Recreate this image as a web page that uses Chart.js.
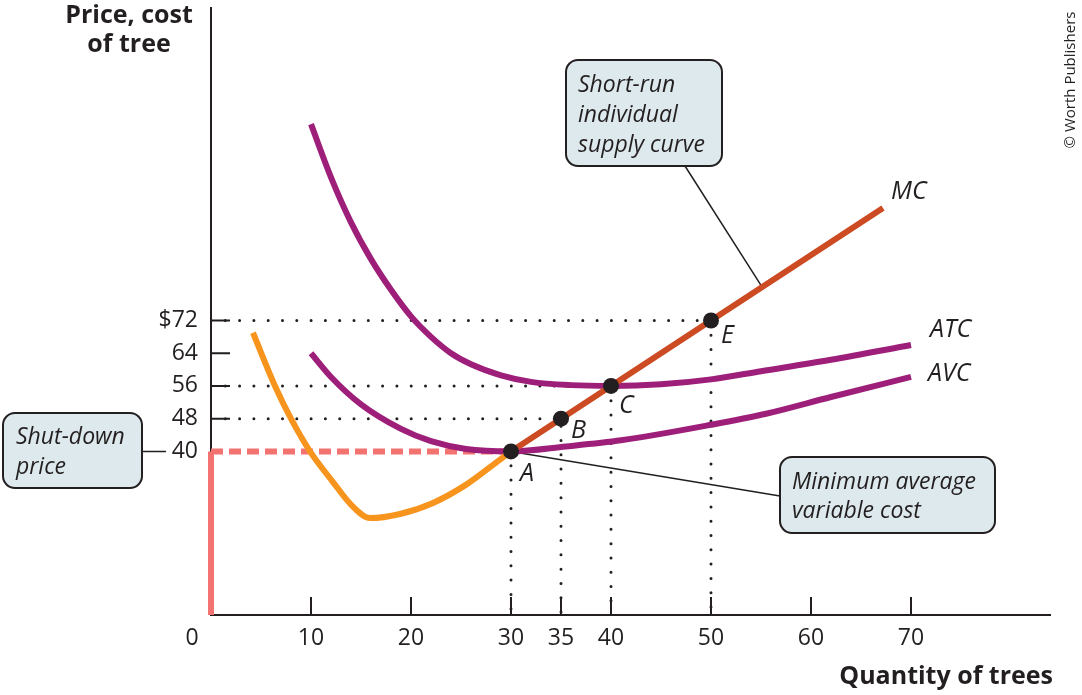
<!DOCTYPE html>
<html>
<head>
<meta charset="utf-8">
<script src="https://cdn.jsdelivr.net/npm/chart.js@4.4.1/dist/chart.umd.min.js"></script>
<style>
  html, body { margin: 0; padding: 0; background: #fff; }
  #wrap { position: relative; width: 1082px; height: 695px; }
</style>
</head>
<body>
<div id="wrap"><canvas id="chart"></canvas></div>
<script>
// tick labels
var quantityTicks = [10, 20, 30, 35, 40, 50, 60, 70];
var priceTicks = [40, 48, 56, 64, 72];
var shutdownPrice = 40;

// marginal cost, falling/bottom part (orange) and rising part (supply curve)
var mcLowQ = [4.2, 6.4, 8.0, 9.9, 12.2, 14.0, 15.9, 18.9, 22.2, 25.6, 28.9, 30];
var mcLowP = [69, 56, 48, 40, 32.5, 27, 23.7, 24.7, 27.4, 32, 38, 40];
var mcHighQ = [30, 35, 40, 50, 67.2];
var mcHighP = [40, 48, 56, 72, 99.5];

// average total cost and average variable cost
var atcQ = [10, 12, 14, 16, 18, 20, 22, 24, 26, 29, 32, 36, 40, 45, 50, 55, 62, 70];
var atcP = [120, 107, 96, 87, 79.5, 73, 68, 64, 61.3, 58.6, 57, 56.2, 56, 56.4, 57.6, 59.6, 62.4, 66];
var avcQ = [10, 12, 15, 19, 22, 25.5, 30, 35.5, 41, 50, 55.5, 62, 70];
var avcP = [64, 58.2, 51.5, 45.5, 42.5, 40.6, 40, 41.2, 42.7, 46.5, 49.2, 53.3, 58.2];

// labelled points
var pointNames = ['A', 'B', 'C', 'E'];
var pointQ = [30, 35, 40, 50];
var pointP = [40, 48, 56, 72];

// where the supply-curve callout touches MC
var supplyCallout = { q: 55.1, p: 80.2 };

var ink = '#231f20';
var purple = '#9e1f7a';
var orange = '#f7941d';
var rust = '#cc4b22';
var salmon = '#f37370';
var boxFill = '#dde9ec';

function pairs(qs, ps) {
  return qs.map(function (q, i) { return { x: q, y: ps[i] }; });
}

// dotted guides from the points to both axes
var guideData = [];
pointQ.forEach(function (q, i) {
  if (pointP[i] !== shutdownPrice) {
    guideData.push({ x: 0, y: pointP[i] });
    guideData.push({ x: q, y: pointP[i] });
  } else {
    guideData.push({ x: q, y: pointP[i] });
  }
  guideData.push({ x: q, y: 0 });
  guideData.push({ x: NaN, y: NaN });
});

var curve = {
  showLine: true,
  pointRadius: 0,
  borderWidth: 6,
  fill: false
};

var decor = {
  id: 'decor',
  beforeDatasetsDraw: function (chart) {
    var ctx = chart.ctx, x = chart.scales.x, y = chart.scales.y, ca = chart.chartArea;
    ctx.save();
    ctx.strokeStyle = ink;
    ctx.lineWidth = 2;
    ctx.beginPath();
    priceTicks.forEach(function (v) {
      if (v === shutdownPrice) return;
      var py = y.getPixelForValue(v);
      ctx.moveTo(ca.left, py); ctx.lineTo(ca.left + 19, py);
    });
    quantityTicks.forEach(function (v) {
      var px = x.getPixelForValue(v);
      ctx.moveTo(px, ca.bottom); ctx.lineTo(px, ca.bottom - 18);
    });
    ctx.stroke();

    // leader lines
    ctx.lineWidth = 1.5;
    ctx.beginPath();
    ctx.moveTo(685, 166);
    ctx.lineTo(x.getPixelForValue(supplyCallout.q), y.getPixelForValue(supplyCallout.p));
    ctx.moveTo(x.getPixelForValue(pointQ[0]), y.getPixelForValue(pointP[0]));
    ctx.lineTo(780, 496);
    ctx.moveTo(142, y.getPixelForValue(shutdownPrice));
    ctx.lineTo(166, y.getPixelForValue(shutdownPrice));
    ctx.stroke();
    ctx.restore();
  },
  afterDatasetsDraw: function (chart) {
    var ctx = chart.ctx, x = chart.scales.x, y = chart.scales.y, ca = chart.chartArea;
    ctx.save();

    function box(l, t, w, h, lines, tx, ty, lh) {
      ctx.beginPath();
      ctx.roundRect(l, t, w, h, 12);
      ctx.fillStyle = boxFill;
      ctx.fill();
      ctx.strokeStyle = ink;
      ctx.lineWidth = 2;
      ctx.stroke();
      ctx.fillStyle = ink;
      ctx.font = "italic 23px 'Open Sans'";
      ctx.textAlign = 'left';
      ctx.textBaseline = 'middle';
      lines.forEach(function (s, i) { ctx.fillText(s, tx, ty + i * lh); });
    }
    box(566, 60, 156, 106, ['Short-run', 'individual', 'supply curve'], 578, 85, 30);
    box(780, 457, 215, 76, ['Minimum average', 'variable cost'], 792, 482, 29);
    box(3, 413, 139, 75, ['Shut-down', 'price'], 16, 437, 30);

    // point letters and curve names
    ctx.fillStyle = ink;
    ctx.font = "italic 25px 'Open Sans'";
    ctx.textAlign = 'left';
    ctx.textBaseline = 'middle';
    var offs = { A: [9, 22], B: [10, 12], C: [8, 20], E: [10, 15] };
    pointNames.forEach(function (n, i) {
      var px = x.getPixelForValue(pointQ[i]), py = y.getPixelForValue(pointP[i]);
      ctx.fillText(n, px + offs[n][0], py + offs[n][1]);
    });
    ctx.fillText('MC', 891, 192);
    ctx.fillText('ATC', 930, 330);
    ctx.fillText('AVC', 928, 374);

    // origin label
    ctx.font = "23px 'Open Sans'";
    ctx.textAlign = 'center';
    ctx.fillText('0', x.getPixelForValue(0) - 19, 638);

    // axis titles
    ctx.font = "bold 25px 'Open Sans'";
    ctx.textAlign = 'center';
    ctx.fillText('Price, cost', 129, 16);
    ctx.fillText('of tree', 129, 45);
    ctx.textAlign = 'right';
    ctx.fillText('Quantity of trees', 1053, 677);

    // credit
    ctx.font = "15px 'Open Sans'";
    ctx.textAlign = 'center';
    ctx.translate(1071, 80);
    ctx.rotate(-Math.PI / 2);
    ctx.fillText('\u00A9 Worth Publishers', 0, 0);
    ctx.restore();
  }
};

Chart.defaults.font.family = "'Open Sans', sans-serif";
Chart.defaults.color = ink;

new Chart(document.getElementById('chart').getContext('2d'), {
  type: 'scatter',
  data: {
    datasets: [
      { label: 'points', data: pairs(pointQ, pointP), pointRadius: 8, pointBackgroundColor: ink,
        pointBorderWidth: 0, showLine: false, order: 0 },
      Object.assign({ label: 'MC', data: pairs(mcHighQ, mcHighP), borderColor: rust, order: 1 }, curve),
      Object.assign({ label: 'MC low', data: pairs(mcLowQ, mcLowP), borderColor: orange,
        cubicInterpolationMode: 'monotone', order: 2 }, curve),
      Object.assign({ label: 'ATC', data: pairs(atcQ, atcP), borderColor: purple,
        cubicInterpolationMode: 'monotone', order: 3 }, curve),
      Object.assign({ label: 'AVC', data: pairs(avcQ, avcP), borderColor: purple,
        cubicInterpolationMode: 'monotone', order: 3 }, curve),
      Object.assign({ label: 'shut-down dashed', data: [{ x: 0, y: shutdownPrice }, { x: pointQ[0], y: shutdownPrice }],
        borderColor: salmon, borderDash: [12, 6], clip: false, order: 4 }, curve),
      Object.assign({ label: 'zero output', data: [{ x: 0, y: 0 }, { x: 0, y: shutdownPrice }],
        borderColor: salmon, clip: false, order: 4 }, curve),
      { label: 'guides', data: guideData, showLine: true, spanGaps: false, pointRadius: 0,
        borderColor: ink, borderWidth: 3, borderDash: [0, 14.3], borderCapStyle: 'round', order: 5 }
    ]
  },
  options: {
    responsive: true,
    maintainAspectRatio: false,
    animation: false,
    events: [],
    layout: { padding: { top: 3, right: 32, left: 0, bottom: 0 } },
    plugins: { legend: { display: false }, tooltip: { enabled: false } },
    scales: {
      x: {
        type: 'linear', min: 0, max: 83.9,
        afterFit: function (s) { s.height = 80; s.paddingLeft = 0; s.paddingRight = 0; },
        afterBuildTicks: function (s) { s.ticks = quantityTicks.map(function (v) { return { value: v }; }); },
        grid: { display: false, drawTicks: false },
        border: { display: true, color: ink, width: 2 },
        ticks: { padding: 10, maxRotation: 0, autoSkip: false, color: ink, font: { size: 23 } }
      },
      y: {
        type: 'linear', min: 0, max: 148.4,
        afterFit: function (s) { s.width = 211; s.paddingTop = 0; s.paddingBottom = 0; },
        afterBuildTicks: function (s) { s.ticks = priceTicks.map(function (v) { return { value: v }; }); },
        grid: { display: false, drawTicks: false },
        border: { display: true, color: ink, width: 2 },
        ticks: {
          padding: 13, autoSkip: false, color: ink, font: { size: 23 },
          callback: function (v) { return v === 72 ? '$72' : v; }
        }
      }
    }
  },
  plugins: [decor]
});
</script>
</body>
</html>
